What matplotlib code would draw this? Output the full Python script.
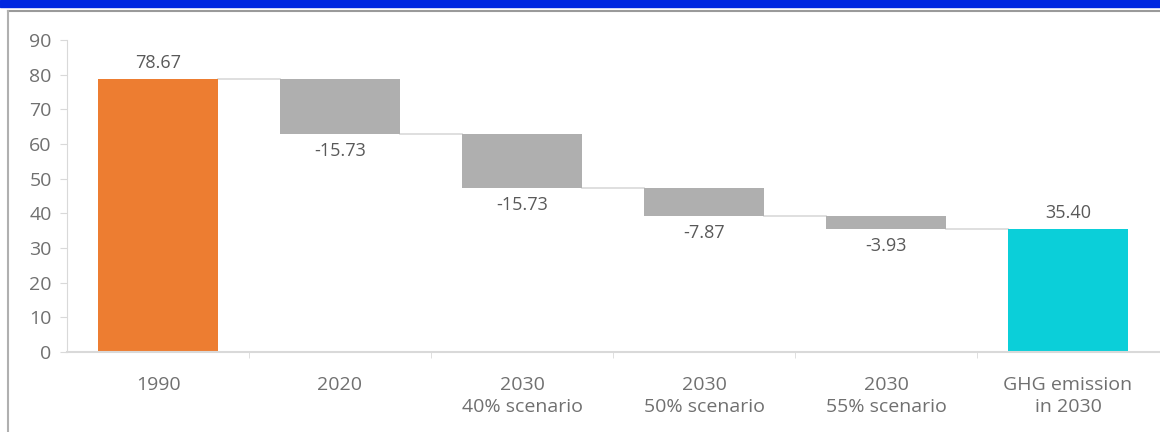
import matplotlib.pyplot as plt
from matplotlib.lines import Line2D
from matplotlib.patches import Rectangle

plt.rcParams['font.family'] = ['Open Sans', 'DejaVu Sans']

# Data
categories = ['1990', '2020', '2030\n40% scenario', '2030\n50% scenario',
              '2030\n55% scenario', 'GHG emission\nin 2030']
start_value = 78.67
changes = [-15.73, -15.73, -7.87, -3.93]
end_value = 35.40
change_labels = ['-15.73', '-15.73', '-7.87', '-3.93']

text_color = '#707070'
label_color = '#595959'
axis_color = '#d9d9d9'

fig = plt.figure(figsize=(11.6, 4.32), dpi=100)
ax = fig.add_axes([67 / 1160, 1 - 352 / 432, 1092 / 1160, 312 / 432])

width = 0.66
x = list(range(len(categories)))

# starting bar
ax.bar(x[0], start_value, width, color='#ED7D31')
ax.text(x[0], start_value + 2.0, f'{start_value:.2f}', ha='center', va='bottom',
        fontsize=13, color=label_color)

# floating change bars
level = start_value
levels = [level]
for i, ch in enumerate(changes):
    ax.bar(x[i + 1], ch, width, bottom=level, color='#AFAFAF')
    level += ch
    levels.append(level)
    ax.text(x[i + 1], level - 2.3, change_labels[i], ha='center', va='top',
            fontsize=13, color=label_color)

# final bar
ax.bar(x[-1], end_value, width, color='#0BCFD9')
ax.text(x[-1], end_value + 2.0, f'{end_value:.2f}', ha='center', va='bottom',
        fontsize=13, color=label_color)

# connector lines
for i, lv in enumerate(levels):
    ax.plot([x[i] + width / 2, x[i + 1] - width / 2], [lv, lv],
            color=axis_color, lw=1.2, zorder=0)

ax.set_xlim(-0.5, 5.5)
ax.set_ylim(0, 90)
ax.set_yticks(range(0, 91, 10))
ax.set_xticks(x)
ax.set_xticklabels(categories, fontsize=14, color=text_color, linespacing=1.3)
ax.set_xticks([i + 0.5 for i in range(5)], minor=True)
ax.tick_params(axis='x', which='major', length=0, pad=17)
ax.tick_params(axis='x', which='minor', length=4, color=axis_color)
ax.tick_params(axis='y', labelsize=14, labelcolor=text_color, length=5,
               color=axis_color, pad=6)

for side in ['top', 'right']:
    ax.spines[side].set_visible(False)
ax.spines['left'].set_color(axis_color)
ax.spines['bottom'].set_color(axis_color)
ax.spines['bottom'].set_linewidth(1.5)

# frame around the picture
fig.patches.append(Rectangle((0, 1 - 7 / 432), 1, 7 / 432, transform=fig.transFigure,
                             color='#0028E0', zorder=5))
fig.lines.append(Line2D([8 / 1160, 1], [1 - 10.5 / 432, 1 - 10.5 / 432],
                        transform=fig.transFigure, color='#9a9a9a', lw=1.5))
fig.lines.append(Line2D([8 / 1160, 8 / 1160], [0, 1 - 10.5 / 432],
                        transform=fig.transFigure, color='#b0b0b0', lw=1.5))

plt.savefig('out.png', dpi=100)
